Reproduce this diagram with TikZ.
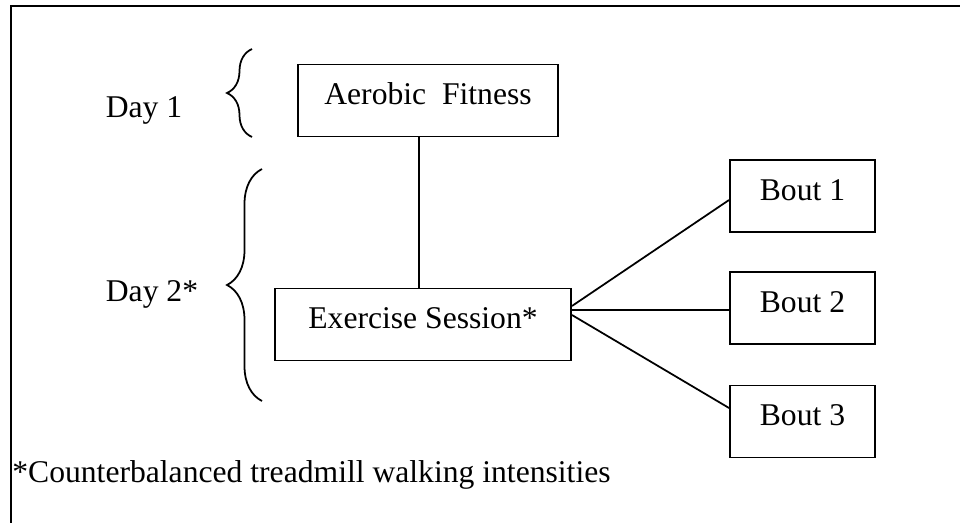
\documentclass[tikz,border=0pt]{standalone}
\usepackage{fontspec}
\setmainfont{Liberation Serif}
\usetikzlibrary{decorations.pathreplacing}
\begin{document}
\begin{tikzpicture}[
    font=\fontsize{18}{22}\selectfont,
    stagebox/.style={draw=black, line width=1.1pt, inner sep=0pt, minimum height=1.44cm, text height=0.8cm, text depth=0.64cm},
    daybrace/.style={draw=black, line width=1pt, decorate, decoration={brace, amplitude=#1}},
    link/.style={draw=black, line width=1pt}
]
    \useasboundingbox (0,0) rectangle (19.2,10.44);
    % outer frame
    \draw[line width=0.9pt] (0.22,-0.5) -- (0.22,10.32) -- (19.7,10.32);

    % insert nodes
    \node[stagebox, minimum width=5.2cm] (aerobic) at (8.56,8.43) {Aerobic\ \ Fitness};
    \node[stagebox, minimum width=5.92cm] (exercise) at (8.46,3.95) {Exercise Session*};
    \node[stagebox, minimum width=2.9cm] (bout1) at (16.05,6.52) {Bout 1};
    \node[stagebox, minimum width=2.9cm] (bout2) at (16.05,4.28) {Bout 2};
    \node[stagebox, minimum width=2.9cm] (bout3) at (16.05,2.01) {Bout 3};

    \node[anchor=base] (day1) at (2.88,8.10) {Day 1};
    \node[anchor=base] (day2) at (3.04,4.42) {Day 2*};
    \node[anchor=base west, inner sep=0pt] (note) at (0.24,0.80) {*Counterbalanced treadmill walking intensities};

    % insert braces
    \draw[daybrace=0.5cm] (5.04,7.70) -- (5.04,9.46);
    \draw[daybrace=0.7cm] (5.24,2.42) -- (5.24,7.06);

    % insert links
    \draw[link] ([xshift=-0.18cm]aerobic.south) -- ([xshift=-0.08cm]exercise.north);
    \draw[link] ([yshift=0.37cm]exercise.east) -- ([yshift=-0.08cm]bout1.west);
    \draw[link] ([yshift=0.29cm]exercise.east) -- ([yshift=-0.04cm]bout2.west);
    \draw[link] ([yshift=0.19cm]exercise.east) -- ([yshift=0.27cm]bout3.west);
\end{tikzpicture}
\end{document}
